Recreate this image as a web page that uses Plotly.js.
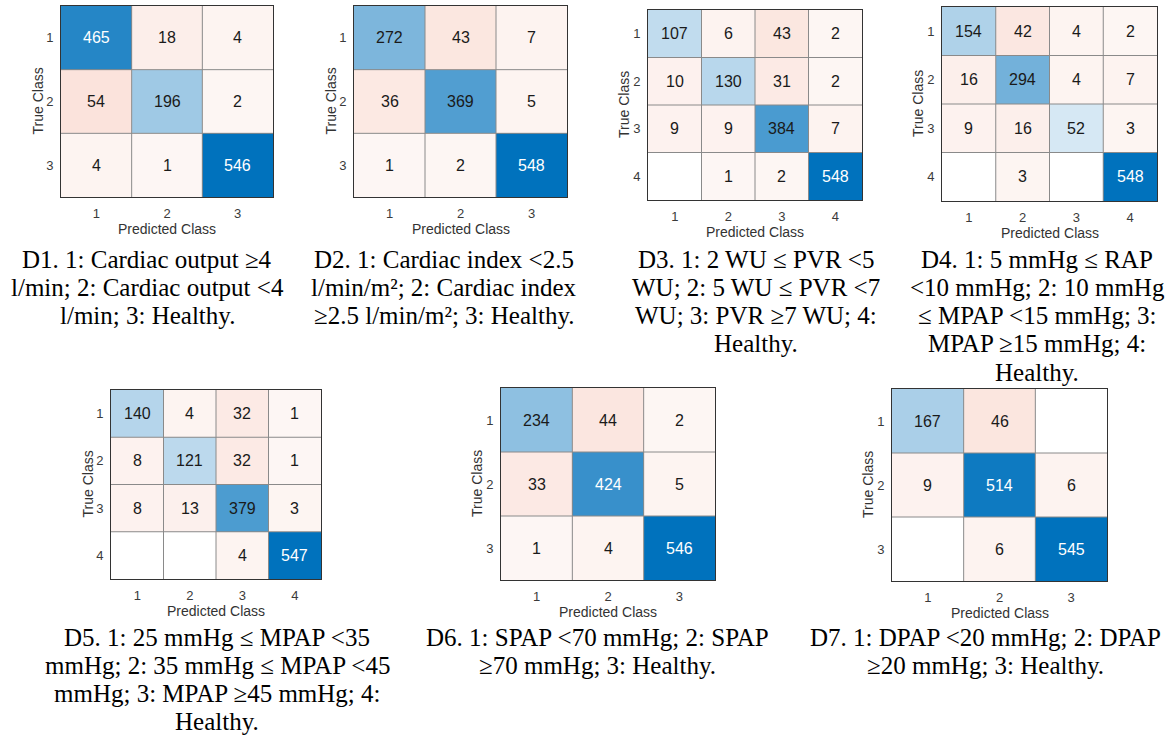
<!DOCTYPE html>
<html>
<head>
<meta charset="utf-8">
<script src="https://cdn.plot.ly/plotly-3.0.1.min.js"></script>
<style>html,body{margin:0;padding:0;background:#fff;}#chart{width:1169px;height:738px;}</style>
</head>
<body>
<div id="chart"></div>
<script>
// ---------- DATA ----------
const D1 = [[465,18,4],[54,196,2],[4,1,546]];
const D2 = [[272,43,7],[36,369,5],[1,2,548]];
const D3 = [[107,6,43,2],[10,130,31,2],[9,9,384,7],[0,1,2,548]];
const D4 = [[154,42,4,2],[16,294,4,7],[9,16,52,3],[0,3,0,548]];
const D5 = [[140,4,32,1],[8,121,32,1],[8,13,379,3],[0,0,4,547]];
const D6 = [[234,44,2],[33,424,5],[1,4,546]];
const D7 = [[167,46,0],[9,514,6],[0,6,545]];

const classes3 = ["1","2","3"];
const classes4 = ["1","2","3","4"];

const cap1 = ["D1. 1: Cardiac output ≥4", "l/min; 2: Cardiac output <4", "l/min; 3: Healthy."];
const cap2 = ["D2. 1: Cardiac index <2.5", "l/min/m²; 2: Cardiac index", "≥2.5 l/min/m²; 3: Healthy."];
const cap3 = ["D3. 1: 2 WU ≤ PVR <5", "WU; 2: 5 WU ≤ PVR <7", "WU; 3: PVR ≥7 WU; 4:", "Healthy."];
const cap4 = ["D4. 1: 5 mmHg ≤ RAP", "<10 mmHg; 2: 10 mmHg", "≤ MPAP <15 mmHg; 3:", "MPAP ≥15 mmHg; 4:", "Healthy."];
const cap5 = ["D5. 1: 25 mmHg ≤ MPAP <35", "mmHg; 2: 35 mmHg ≤ MPAP <45", "mmHg; 3: MPAP ≥45 mmHg; 4:", "Healthy."];
const cap6 = ["D6. 1: SPAP <70 mmHg; 2: SPAP", "≥70 mmHg; 3: Healthy."];
const cap7 = ["D7. 1: DPAP <20 mmHg; 2: DPAP", "≥20 mmHg; 3: Healthy."];

const xTitle = "Predicted Class";
const yTitle = "True Class";

// ---------- LAYOUT (pixel boxes) ----------
const W = 1169, H = 738;
const panels = [
  {m:D1, cls:classes3, cap:cap1, box:[61,273,6,197],   cx:147, cy:259},
  {m:D2, cls:classes3, cap:cap2, box:[354,567,6,197],  cx:444, cy:259},
  {m:D3, cls:classes4, cap:cap3, box:[648,862,10,200], cx:756, cy:259},
  {m:D4, cls:classes4, cap:cap4, box:[942,1157,7,201], cx:1037, cy:259},
  {m:D5, cls:classes4, cap:cap5, box:[111,321,390,579], cx:217, cy:637},
  {m:D6, cls:classes3, cap:cap6, box:[501,715,388,580], cx:597, cy:637},
  {m:D7, cls:classes3, cap:cap7, box:[892,1107,389,581], cx:985, cy:637}
];

const diagScale = [[0,'#ffffff'],[0.095,'#d6e8f4'],[0.36,'#9fc9e5'],[1,'#0072BD']];
const offScale = [[0,'#fdf7f5'],[0.0075,'#fdf4f1'],[0.033,'#fceeea'],[0.1,'#fbe3dc'],[0.3,'#f3b9a6'],[1,'#d95319']];

const traces = [];
const shapes = [];
const annotations = [];
const layout = {
  width: W, height: H,
  margin: {l:0, r:0, t:0, b:0},
  paper_bgcolor: '#ffffff', plot_bgcolor: '#ffffff',
  showlegend: false,
  font: {family: 'Liberation Sans, Arial, sans-serif', color: '#262626'}
};

panels.forEach((p, k) => {
  const idx = k + 1;
  const xa = 'x' + (idx === 1 ? '' : idx);
  const ya = 'y' + (idx === 1 ? '' : idx);
  const n = p.cls.length;
  const pos = p.cls.map((c, i) => i + 1);
  const mx = Math.max(...p.m.flat());
  const zd = p.m.map((row, i) => row.map((v, j) => (i === j && v > 0) ? v : null));
  const zo = p.m.map((row, i) => row.map((v, j) => (i !== j && v > 0) ? v : null));
  const common = {type:'heatmap', x: pos, y: pos, xaxis: xa, yaxis: ya, showscale:false, hoverinfo:'skip', zmin:0, zmax:mx};
  traces.push(Object.assign({}, common, {z: zd, colorscale: diagScale}));
  traces.push(Object.assign({}, common, {z: zo, colorscale: offScale}));

  const [l, r, t, b] = p.box;
  const axKey = idx === 1 ? '' : idx;
  layout['xaxis' + axKey] = {
    domain: [l / W, r / W], anchor: ya, range: [0.5, n + 0.5],
    tickvals: pos, ticktext: p.cls, ticks: '', ticklabelstandoff: 4,
    tickfont: {size: 13, color: '#3a3a3a', family: 'Liberation Sans, Arial, sans-serif'},
    showgrid: false, zeroline: false, showline: true, mirror: true, linecolor: '#333333', linewidth: 1,
    fixedrange: true
  };
  layout['yaxis' + axKey] = {
    domain: [1 - b / H, 1 - t / H], anchor: xa, range: [n + 0.5, 0.5],
    tickvals: pos, ticktext: p.cls, ticks: '', ticklabelstandoff: 4,
    tickfont: {size: 13, color: '#3a3a3a', family: 'Liberation Sans, Arial, sans-serif'},
    showgrid: false, zeroline: false, showline: true, mirror: true, linecolor: '#333333', linewidth: 1,
    fixedrange: true
  };

  // cell grid lines
  for (let g = 1; g < n; g++) {
    shapes.push({type:'line', xref: xa, yref: ya, x0: g + 0.5, x1: g + 0.5, y0: 0.5, y1: n + 0.5, line:{color:'#8a8a8a', width:1}});
    shapes.push({type:'line', xref: xa, yref: ya, y0: g + 0.5, y1: g + 0.5, x0: 0.5, x1: n + 0.5, line:{color:'#8a8a8a', width:1}});
  }

  // cell values
  p.m.forEach((row, i) => row.forEach((v, j) => {
    if (v <= 0) return;
    const light = (i === j) && (v / mx > 0.75);
    annotations.push({x: j + 1, y: i + 1, xref: xa, yref: ya, text: String(v), showarrow: false,
      font: {size: 16, color: light ? '#ffffff' : '#1a1a1a', family: 'Liberation Sans, Arial, sans-serif'}});
  }));

  // axis titles
  annotations.push({x: 0.5, y: 0, xref: xa + ' domain', yref: ya + ' domain', yanchor: 'middle', yshift: -32,
    text: xTitle, showarrow: false, font: {size: 14, color: '#333333'}});
  annotations.push({x: 0, y: 0.5, xref: xa + ' domain', yref: ya + ' domain', xanchor: 'center', xshift: -24,
    text: yTitle, textangle: -90, showarrow: false, font: {size: 14, color: '#333333'}});

  // caption
  p.cap.forEach((line, li) => {
    annotations.push({x: p.cx / W, y: 1 - (p.cy + li * 28.3) / H, xref: 'paper', yref: 'paper',
      xanchor: 'center', yanchor: 'middle', text: line, showarrow: false,
      font: {size: 25, color: '#000000', family: 'Liberation Serif, Times New Roman, serif'}});
  });
});

layout.shapes = shapes;
layout.annotations = annotations;

Plotly.newPlot('chart', traces, layout, {staticPlot: true, displayModeBar: false});
</script>
</body>
</html>
